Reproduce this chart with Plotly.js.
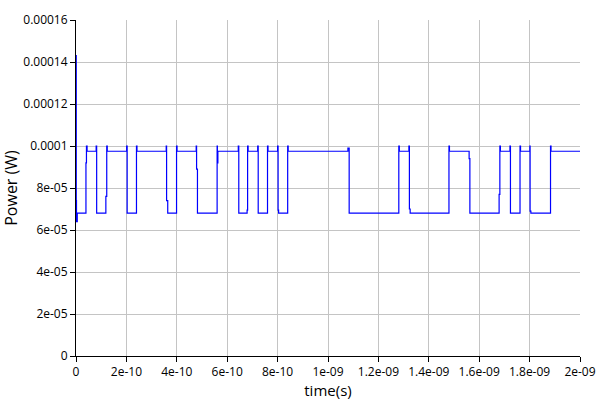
<!DOCTYPE html>
<html>
<head>
<meta charset="utf-8">
<script src="https://cdn.plot.ly/plotly-3.0.1.min.js"></script>
<style>html,body{margin:0;padding:0;background:#fff}#chart{width:600px;height:400px}</style>
</head>
<body>
<div id="chart"></div>
<script>
// time points in picoseconds (step changes)
const timePs = [
  0, 1, 2, 5,
  39.5, 41.5, 44,
  80, 82,
  118.5, 122, 124,
  201, 203,
  240, 242,
  358, 359.5, 364,
  399, 401,
  477, 478.5, 482,
  560, 561, 563,
  644, 646,
  679, 681, 683,
  721, 723,
  760, 762,
  800, 802, 804,
  840, 842,
  1079, 1084,
  1281, 1283,
  1321, 1323, 1326,
  1480, 1482,
  1560, 1563,
  1679, 1682, 1684,
  1722, 1724,
  1762, 1764,
  1801, 1802, 1805,
  1883, 1885,
  2000
];
// power in watts at each time point
const powerW = [
  1.43e-4, 7.4e-5, 6.4e-5, 6.8e-5,
  9.2e-5, 1.0e-4, 9.75e-5,
  1.0e-4, 6.8e-5,
  7.6e-5, 1.0e-4, 9.75e-5,
  1.0e-4, 6.8e-5,
  1.0e-4, 9.75e-5,
  1.0e-4, 7.4e-5, 6.8e-5,
  1.0e-4, 9.75e-5,
  1.0e-4, 8.9e-5, 6.8e-5,
  1.0e-4, 9.2e-5, 9.75e-5,
  1.0e-4, 6.8e-5,
  6.95e-5, 1.0e-4, 9.75e-5,
  1.0e-4, 6.8e-5,
  1.0e-4, 9.75e-5,
  1.0e-4, 6.95e-5, 6.8e-5,
  1.0e-4, 9.75e-5,
  9.9e-5, 6.8e-5,
  1.0e-4, 9.75e-5,
  1.0e-4, 7.0e-5, 6.8e-5,
  1.0e-4, 9.75e-5,
  9.4e-5, 6.8e-5,
  7.7e-5, 1.0e-4, 9.75e-5,
  1.0e-4, 6.8e-5,
  1.0e-4, 9.75e-5,
  1.0e-4, 6.9e-5, 6.8e-5,
  1.0e-4, 9.75e-5,
  9.75e-5
];
const xTickVals = [0, 2e-10, 4e-10, 6e-10, 8e-10, 1e-9, 1.2e-9, 1.4e-9, 1.6e-9, 1.8e-9, 2e-9];
const xTickText = ['0', '2e-10', '4e-10', '6e-10', '8e-10', '1e-09', '1.2e-09', '1.4e-09', '1.6e-09', '1.8e-09', '2e-09'];
const yTickVals = [0, 2e-5, 4e-5, 6e-5, 8e-5, 1e-4, 1.2e-4, 1.4e-4, 1.6e-4];
const yTickText = ['0', '2e-05', '4e-05', '6e-05', '8e-05', '0.0001', '0.00012', '0.00014', '0.00016'];

const timeS = timePs.map(v => v * 1e-12);

const trace = {
  x: timeS, y: powerW, type: 'scatter', mode: 'lines',
  line: {color: '#0000ff', width: 1.2, shape: 'hv'},
  hoverinfo: 'skip'
};

const font = {family: '"Open Sans", "DejaVu Sans", sans-serif', color: '#000'};
const layout = {
  width: 600, height: 400,
  margin: {l: 76, r: 20, t: 20, b: 44, pad: 0},
  paper_bgcolor: '#fff', plot_bgcolor: '#fff',
  showlegend: false,
  font: Object.assign({size: 12}, font),
  xaxis: {
    range: [0, 2e-9], tickvals: xTickVals, ticktext: xTickText,
    showgrid: true, gridcolor: '#c4c4c4', gridwidth: 1,
    zeroline: false, showline: true, linecolor: '#000', linewidth: 1,
    ticks: 'outside', ticklen: 5, tickcolor: '#000', tickwidth: 1,
    tickfont: Object.assign({size: 12}, font),
    title: {text: 'time(s)', font: Object.assign({size: 15}, font), standoff: 2}
  },
  yaxis: {
    range: [0, 1.6e-4], tickvals: yTickVals, ticktext: yTickText,
    showgrid: true, gridcolor: '#c4c4c4', gridwidth: 1,
    zeroline: false, showline: true, linecolor: '#000', linewidth: 1,
    ticks: 'outside', ticklen: 5, tickcolor: '#000', tickwidth: 1,
    tickfont: Object.assign({size: 12}, font),
    title: {text: 'Power (W)', font: Object.assign({size: 16}, font), standoff: 6}
  }
};
Plotly.newPlot('chart', [trace], layout, {displayModeBar: false, staticPlot: true});
</script>
</body>
</html>
